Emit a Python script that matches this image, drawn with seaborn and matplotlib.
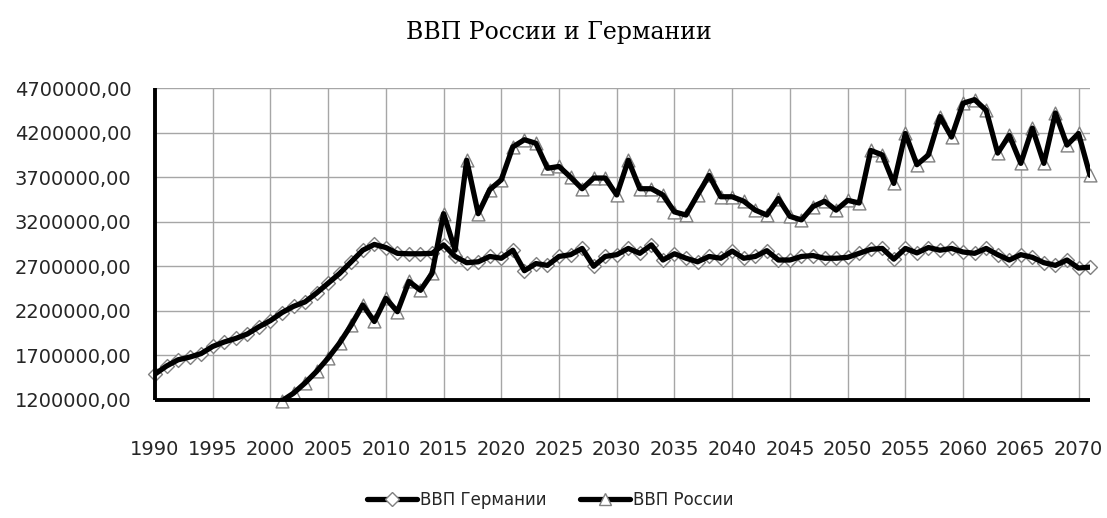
import numpy as np
import pandas as pd
import matplotlib
matplotlib.use("Agg")
import matplotlib.pyplot as plt
from matplotlib.lines import Line2D
from matplotlib.ticker import FuncFormatter
import seaborn as sns

years = np.arange(1990, 2072)

gdp_germany = [1490000, 1580000, 1650000, 1680000, 1720000, 1800000, 1850000, 1890000, 1940000, 2020000,
               2090000, 2180000, 2250000, 2300000, 2400000, 2510000, 2620000, 2750000, 2880000, 2945000,
               2910000, 2845000, 2840000, 2840000, 2845000, 2940000, 2810000, 2740000, 2750000, 2810000,
               2790000, 2880000, 2650000, 2730000, 2710000, 2810000, 2830000, 2900000, 2700000, 2810000,
               2830000, 2900000, 2845000, 2940000, 2770000, 2840000, 2790000, 2750000, 2810000, 2790000,
               2870000, 2790000, 2810000, 2875000, 2770000, 2770000, 2810000, 2820000, 2790000, 2790000,
               2800000, 2845000, 2890000, 2900000, 2780000, 2900000, 2850000, 2910000, 2880000, 2900000,
               2860000, 2845000, 2900000, 2830000, 2770000, 2830000, 2800000, 2740000, 2710000, 2770000,
               2680000, 2690000]

# Russia series starts in 2001
gdp_russia = [np.nan] * 11 + [
    1190000, 1275000, 1390000, 1520000, 1670000, 1840000, 2040000, 2265000, 2080000, 2340000,
    2190000, 2530000, 2430000, 2620000, 3290000, 2880000, 3890000, 3290000, 3560000, 3670000,
    4040000, 4120000, 4080000, 3800000, 3820000, 3700000, 3570000, 3690000, 3690000, 3500000,
    3890000, 3570000, 3570000, 3500000, 3310000, 3275000, 3500000, 3720000, 3480000, 3480000,
    3430000, 3330000, 3275000, 3460000, 3260000, 3220000, 3370000, 3430000, 3330000, 3440000,
    3410000, 4000000, 3950000, 3630000, 4190000, 3840000, 3950000, 4380000, 4150000, 4530000,
    4570000, 4450000, 3970000, 4170000, 3855000, 4250000, 3855000, 4420000, 4060000, 4190000,
    3720000]

y_ticks = [1200000, 1700000, 2200000, 2700000, 3200000, 3700000, 4200000, 4700000]
x_ticks = list(range(1990, 2071, 5))

series_names = ["ВВП Германии", "ВВП России"]
title = "ВВП России и Германии"

df = pd.DataFrame({"year": years, series_names[0]: gdp_germany, series_names[1]: gdp_russia})
long = df.melt(id_vars="year", var_name="series", value_name="gdp").dropna()

sns.set_style("white")
plt.rcParams["font.family"] = ["DejaVu Sans"]

fig = plt.figure(figsize=(11.07, 5.18), dpi=100)
ax = fig.add_axes([0.14, 0.228, 0.8447, 0.602])

marker_map = {series_names[0]: "D", series_names[1]: "^"}
size_map = {series_names[0]: 50, series_names[1]: 85}

# markers underneath the thick lines
for name in series_names:
    sub = long[long["series"] == name]
    sns.scatterplot(data=sub, x="year", y="gdp", marker=marker_map[name], s=size_map[name],
                    facecolor="white", edgecolor="#808080", linewidth=1.0, ax=ax,
                    zorder=3, clip_on=False, legend=False)

sns.lineplot(data=long, x="year", y="gdp", units="series", estimator=None, color="black",
             linewidth=3.8, ax=ax, zorder=4, legend=False)

ax.set_xlim(1990, 2071)
ax.set_ylim(y_ticks[0], y_ticks[-1])
ax.set_xticks(x_ticks)
ax.set_yticks(y_ticks)
ax.yaxis.set_major_formatter(FuncFormatter(lambda v, p: f"{v:.2f}".replace(".", ",")))

ax.grid(True, color="#a6a6a6", linewidth=1.0)
ax.set_axisbelow(True)
for s in ["top", "right"]:
    ax.spines[s].set_visible(False)
for s in ["left", "bottom"]:
    ax.spines[s].set_color("black")
    ax.spines[s].set_linewidth(2.8)
    ax.spines[s].set_zorder(5)
    ax.spines[s].set_capstyle("butt")

ax.tick_params(axis="x", direction="out", length=7, width=2.5, color="black",
               labelsize=14, pad=22)
ax.tick_params(axis="y", direction="out", length=7, width=2.5, color="black",
               labelsize=14, pad=10)
ax.set_xlabel("")
ax.set_ylabel("")

fig.suptitle(title, x=0.505, y=0.96, fontsize=17, color="black", family=["DejaVu Serif"])

handles = [Line2D([], [], color="black", lw=3.8, marker=marker_map[n], markersize=7 if n == series_names[0] else 9,
                  markerfacecolor="white", markeredgecolor="#808080") for n in series_names]
fig.legend(handles, series_names, loc="center", bbox_to_anchor=(0.497, 0.035), ncol=2,
           frameon=False, handlelength=3.0, columnspacing=2.0, handletextpad=0.2,
           prop={"family": ["DejaVu Sans"], "size": 12})

fig.savefig("out.png", dpi=100)
